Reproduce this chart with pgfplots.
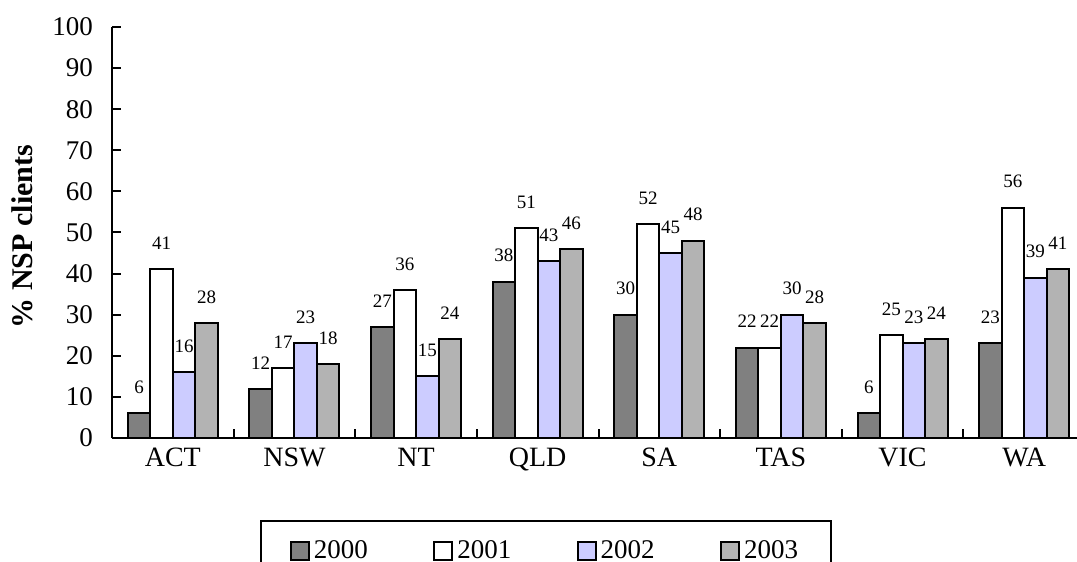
\documentclass[border=0pt]{standalone}
\usepackage{fontspec}
\setmainfont{Liberation Serif}
\usepackage{pgfplots}
\pgfplotsset{compat=1.18}
\definecolor{cA}{RGB}{128,128,128}
\definecolor{cC}{RGB}{204,204,255}
\definecolor{cD}{RGB}{179,179,179}
\begin{document}
\begin{tikzpicture}
\useasboundingbox (-56pt,-62pt) rectangle (482.5pt,219pt);
\clip (-56pt,-62pt) rectangle (482.5pt,219pt);
\begin{axis}[
 at={(0pt,0pt)}, anchor=south west,
 scale only axis, width=486.5pt, height=205.5pt,
 ybar=0pt, bar width=11.25pt,
 xmin=-0.5, xmax=7.5, ymin=0, ymax=100,
 axis x line=bottom, axis y line=left,
 axis line style={-, line width=1pt, black},
 xtick={-0.5,0.5,...,7.5},
 xticklabels={ACT,NSW,NT,QLD,SA,TAS,VIC,WA},
 x tick label as interval,
 ytick={0,10,...,100},
 tick align=inside,
 major tick length=4.5pt,
 tick style={line width=1pt, black},
 ticklabel style={font=\fontsize{13.5}{16}\selectfont},
 /pgf/number format/assume math mode=true,
 yticklabel style={xshift=-6pt},
 xticklabel style={font=\fontsize{14}{16}\selectfont, yshift=-1.5pt},
 ylabel={\% NSP clients},
 every axis y label/.style={at={(axis description cs:-0.0925,0.49)}, rotate=90, anchor=center, font=\bfseries\fontsize{15}{18}\selectfont},
 nodes near coords,
 every node near coord/.append style={font=\fontsize{9.5}{11}\selectfont, yshift=6pt, black},
 legend columns=4,
 legend style={at={(0.446,-0.1995)}, anchor=north, draw=black, line width=1pt, inner xsep=14.5pt, inner ysep=8pt, font=\fontsize{13.5}{16}\selectfont, /tikz/every even column/.append style={column sep=30.7pt}},
 legend image code/.code={\draw[#1, line width=1pt] (0pt,-4.5pt) rectangle (9pt,4.5pt);},
]
\addplot[fill=cA, draw=black, line width=1pt] coordinates {(0,6) (1,12) (2,27) (3,38) (4,30) (5,22) (6,6) (7,23)};
\addplot[fill=white, draw=black, line width=1pt] coordinates {(0,41) (1,17) (2,36) (3,51) (4,52) (5,22) (6,25) (7,56)};
\addplot[fill=cC, draw=black, line width=1pt] coordinates {(0,16) (1,23) (2,15) (3,43) (4,45) (5,30) (6,23) (7,39)};
\addplot[fill=cD, draw=black, line width=1pt] coordinates {(0,28) (1,18) (2,24) (3,46) (4,48) (5,28) (6,24) (7,41)};
\legend{2000,2001,2002,2003}
\end{axis}
\end{tikzpicture}
\end{document}
